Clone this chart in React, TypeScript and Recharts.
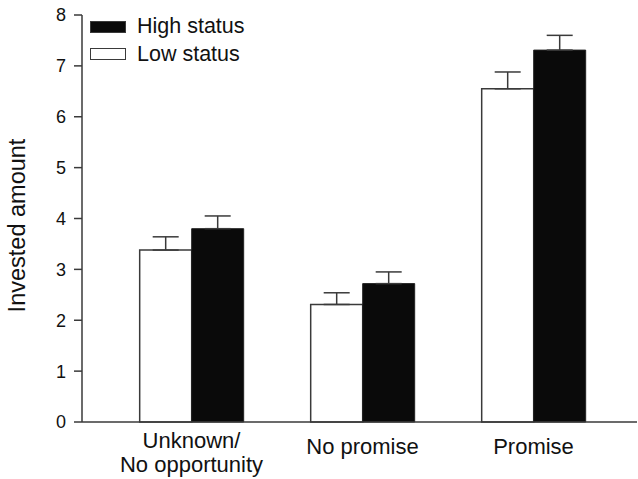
import React from 'react';
import { BarChart, Bar, XAxis, YAxis, ErrorBar, Legend, Label } from 'recharts';

const categories = ['Unknown/\nNo opportunity', 'No promise', 'Promise'];
const lowStatus = [3.38, 2.31, 6.55];
const highStatus = [3.8, 2.72, 7.31];
const lowErr = [0.26, 0.23, 0.33];
const highErr = [0.25, 0.23, 0.29];
const yTicks = [0, 1, 2, 3, 4, 5, 6, 7, 8];
const legendOrder = ['High status', 'Low status'];

const data = categories.map((name, i) => ({
  name,
  low: lowStatus[i],
  high: highStatus[i],
  lowErr: [0, lowErr[i]],
  highErr: [0, highErr[i]],
}));

const FONT = '"Liberation Sans", Arial, sans-serif';
const INK = '#3a3a3a';

const CategoryTick = (props: any) => {
  const { x, y, payload } = props;
  const lines = String(payload.value).split('\n');
  const first = lines.length > 1 ? 18 : 24;
  return (
    <text x={x} y={y} textAnchor="middle" fontFamily={FONT} fontSize={22} fill="#111">
      {lines.map((l, i) => (
        <tspan key={i} x={x} dy={i === 0 ? first : 24}>
          {l}
        </tspan>
      ))}
    </text>
  );
};

const StatusLegend = (props: any) => {
  const items = [...(props.payload || [])].sort(
    (a: any, b: any) => legendOrder.indexOf(a.value) - legendOrder.indexOf(b.value)
  );
  return (
    <div style={{ fontFamily: FONT, fontSize: 21.5, color: '#111' }}>
      {items.map((it: any) => (
        <div key={it.value} style={{ display: 'flex', alignItems: 'center', height: 27.5 }}>
          <span
            style={{
              display: 'inline-block',
              width: 34,
              height: 10,
              background: it.color,
              border: `1px solid ${INK}`,
              marginRight: 11,
            }}
          />
          <span>{it.value}</span>
        </div>
      ))}
    </div>
  );
};

const YTitle = (props: any) => {
  const vb = props.viewBox;
  const cx = 17;
  const cy = vb.y + vb.height / 2 + 7;
  return (
    <text
      x={cx}
      y={cy}
      transform={`rotate(-90 ${cx} ${cy})`}
      textAnchor="middle"
      dominantBaseline="central"
      fontFamily={FONT}
      fontSize={23.5}
      fill="#111"
    >
      Invested amount
    </text>
  );
};

export default function App() {
  return (
    <div style={{ position: 'absolute', left: 0, top: 0, background: '#fff' }}>
      <BarChart
        width={638}
        height={479}
        data={data}
        margin={{ top: 15, right: 1, bottom: 0, left: 0 }}
        barCategoryGap="19.7%"
        barGap={0}
      >
        <XAxis
          dataKey="name"
          height={57}
          padding={{ left: 24, right: 18 }}
          tickLine={false}
          axisLine={{ stroke: INK, strokeWidth: 1.5 }}
          tick={<CategoryTick />}
          interval={0}
        />
        <YAxis
          width={82}
          domain={[0, 8]}
          ticks={yTicks}
          interval={0}
          tickSize={8}
          tickMargin={8}
          axisLine={{ stroke: INK, strokeWidth: 1.5 }}
          tickLine={{ stroke: INK, strokeWidth: 1.5 }}
          tick={{ fontFamily: FONT, fontSize: 18, fill: '#111' }}
        >
          <Label content={<YTitle />} />
        </YAxis>
        <Legend
          layout="vertical"
          verticalAlign="middle"
          align="center"
          content={<StatusLegend />}
          wrapperStyle={{ left: 90, top: 13, width: 200 }}
        />
        <Bar dataKey="low" name="Low status" fill="#ffffff" stroke={INK} strokeWidth={1.5} isAnimationActive={false}>
          <ErrorBar dataKey="lowErr" width={13} stroke={INK} strokeWidth={1.5} direction="y" />
        </Bar>
        <Bar dataKey="high" name="High status" fill="#0a0a0a" stroke="#222" strokeWidth={1} isAnimationActive={false}>
          <ErrorBar dataKey="highErr" width={13} stroke={INK} strokeWidth={1.5} direction="y" />
        </Bar>
      </BarChart>
    </div>
  );
}
